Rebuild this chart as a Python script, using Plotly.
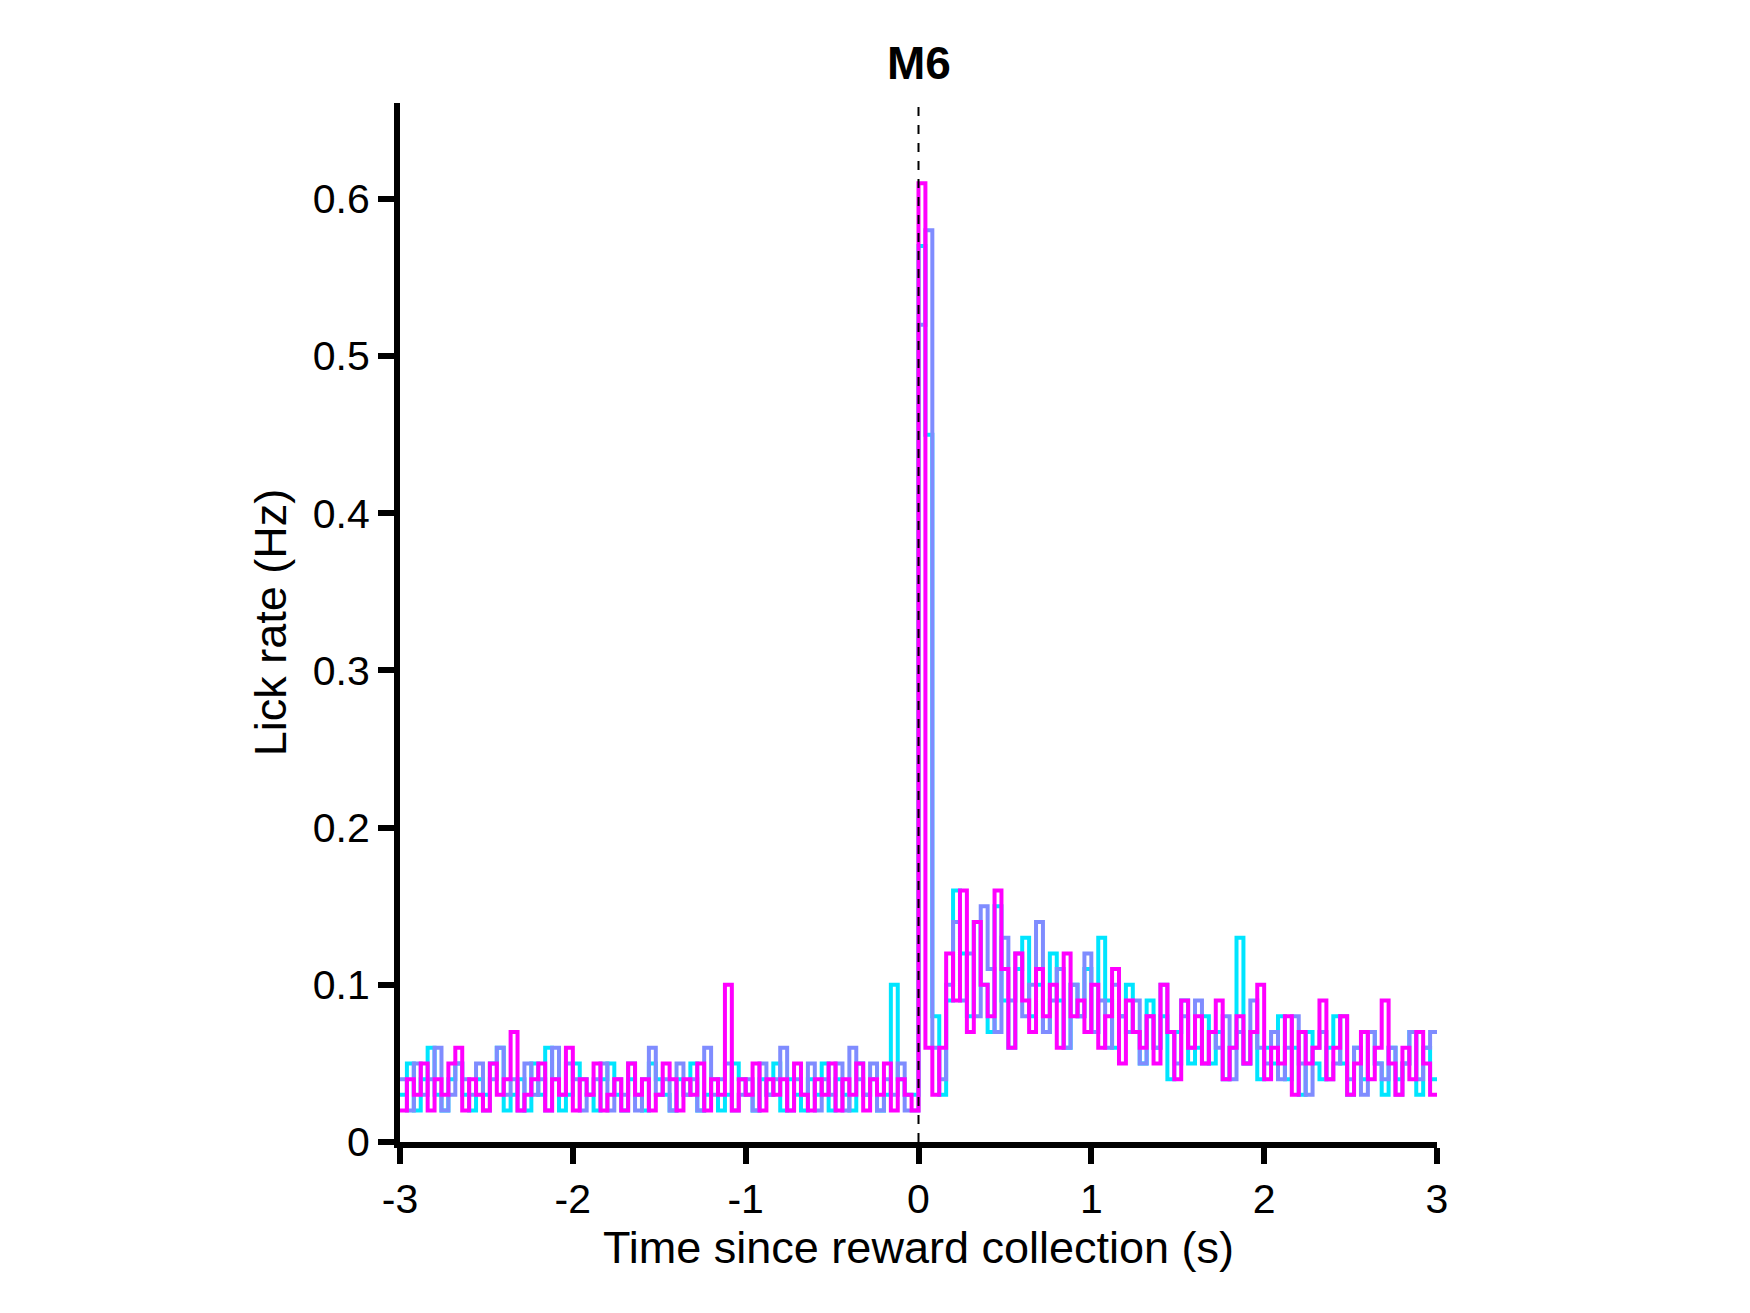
import numpy as np
import plotly.graph_objects as go

# bin edges: 0.04 s bins from -3 to 3 (150 bins); values in hundredths of Hz
bin_width = 0.04
t_start = -3.0

cyan_rate = [
    3,5,2,4,6,3,2,4,5,3, 2,4,3,5,6,2,3,4,2,5, 3,6,4,2,3,5,4,3,2,4, 5,3,2,4,3,2,5,4,3,2,
    4,3,5,2,3,4,2,3,5,4, 3,2,4,3,5,2,4,3,2,4, 3,5,2,4,3,2,5,3,4,2, 3,10,4,3,3,
    57,45,8,3,9,16,12,8,14,10, 7,15,9,6,11,13,8,10,7,12, 9,6,10,8,11,7,13,9,6,8,
    10,7,5,9,6,8,4,7,9,5, 6,8,5,7,4,6,13,5,7,4, 6,5,8,4,6,3,7,5,4,6, 8,5,3,6,4,7,5,3,6,4,
    5,7,3,6,4,
]
blue_rate = [
    4,2,5,3,4,6,2,3,5,4, 3,5,2,4,6,3,4,2,5,3, 4,2,6,3,5,4,2,3,4,5, 2,4,3,5,2,4,6,3,4,2,
    5,3,4,2,6,3,4,5,2,3, 4,2,5,3,4,6,2,4,3,5, 2,4,3,5,2,6,4,3,5,2, 4,3,5,2,2,
    52,58,6,4,10,14,9,12,8,15, 11,7,13,9,12,8,10,14,7,9, 11,6,10,8,12,7,9,6,10,8,
    7,9,5,8,6,10,7,5,8,6, 9,5,7,6,8,4,7,5,9,6, 5,7,4,6,8,5,3,6,7,4, 5,8,4,6,3,7,5,4,6,3,
    5,7,4,6,7,
]
magenta_rate = [
    2,4,3,5,2,4,3,5,6,2, 4,3,2,5,3,4,7,2,3,4, 5,2,4,3,6,2,4,3,5,2, 3,4,2,5,3,4,2,3,5,4,
    2,4,3,5,2,4,3,10,2,4, 3,5,2,4,3,4,2,5,3,2, 4,3,5,2,4,3,5,2,4,3, 5,2,4,3,2,
    61,6,3,6,12,9,16,7,14,10, 8,16,11,6,12,9,7,11,8,10, 6,12,8,9,7,10,6,8,11,5,
    9,7,6,8,5,10,7,4,9,6, 8,5,7,9,4,6,8,5,7,10, 4,6,5,8,3,7,5,6,9,4, 6,8,3,5,7,4,6,9,5,3,
    6,4,7,5,3,
]

series = [
    ("session 1", cyan_rate, "#00e5ff"),
    ("session 2", blue_rate, "#7f8cff"),
    ("session 3", magenta_rate, "#ff00ff"),
]

fig = go.Figure()
for name, vals, color in series:
    y = np.array(vals, dtype=float) / 100
    edges = t_start + bin_width * np.arange(len(y) + 1)
    fig.add_trace(go.Scatter(
        x=edges, y=np.append(y, y[-1]), mode="lines", name=name,
        line=dict(color=color, width=4, shape="hv"), showlegend=False,
    ))

# reward collection marker
fig.add_shape(type="line", x0=0, x1=0, y0=0, y1=1, yref="paper",
              line=dict(color="black", width=2, dash="dash"))

fig.add_annotation(text="<b>M6</b>", x=0, y=1, xref="x", yref="paper",
                   yanchor="bottom", yshift=12, showarrow=False,
                   font=dict(size=46, color="black"))

axis_style = dict(showline=True, linecolor="black", linewidth=6, ticks="outside",
                  ticklen=16, tickwidth=6, tickcolor="black", showgrid=False,
                  zeroline=False, tickfont=dict(size=41), title_font=dict(size=45))

fig.update_layout(
    width=1750, height=1313,
    plot_bgcolor="white", paper_bgcolor="white",
    font=dict(family="Liberation Sans, Arial", color="black"),
    margin=dict(l=392, r=321, t=95, b=179),
    xaxis=dict(range=[-3, 3], tickvals=[-3, -2, -1, 0, 1, 2, 3],
               ticktext=["-3", "-2", "-1", "0", "1", "2", "3"],
               title_text="Time since reward collection (s)", title_standoff=10,
               **axis_style),
    yaxis=dict(range=[0, 0.661], tickvals=[0, 0.1, 0.2, 0.3, 0.4, 0.5, 0.6],
               ticktext=["0", "0.1", "0.2", "0.3", "0.4", "0.5", "0.6"],
               title_text="Lick rate (Hz)", title_standoff=14, **axis_style),
)

fig.write_html("out.html")
